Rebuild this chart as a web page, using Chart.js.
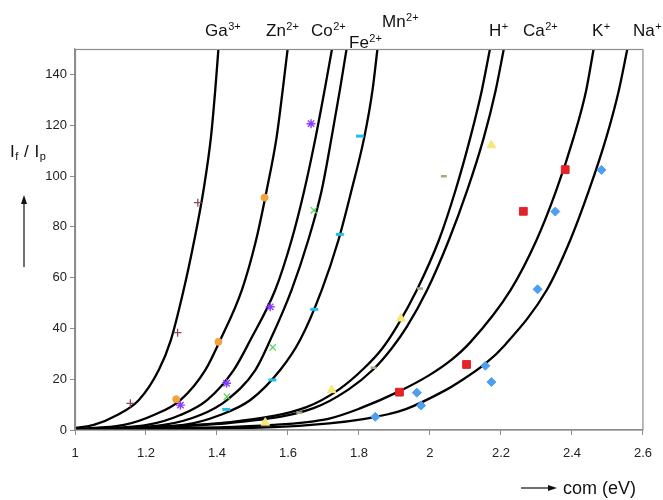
<!DOCTYPE html>
<html>
<head>
<meta charset="utf-8">
<script src="https://cdn.jsdelivr.net/npm/chart.js@4"></script>
<style>
  html, body { margin: 0; padding: 0; background: #ffffff; }
  #wrap { width: 663px; height: 500px; }
</style>
</head>
<body>
<div id="wrap"><canvas id="c" width="663" height="500"></canvas></div>
<script>
// ---------- data ----------
const xTickValues = [1, 1.2, 1.4, 1.6, 1.8, 2, 2.2, 2.4, 2.6];
const xTickLabels = ['1', '1.2', '1.4', '1.6', '1.8', '2', '2.2', '2.4', '2.6'];
const yTickValues = [0, 20, 40, 60, 80, 100, 120, 140];
const yTickLabels = ['0', '20', '40', '60', '80', '100', '120', '140'];

// fitted curves
const gaCurveX = [1.00, 1.053, 1.119, 1.180, 1.236, 1.270, 1.306, 1.336, 1.362, 1.383, 1.395, 1.404];
const gaCurveY = [0.8, 2.0, 5.9, 11.8, 23.6, 35.4, 55.1, 74.7, 94.4, 115.3, 133.7, 150];
const znCurveX = [1.00, 1.138, 1.222, 1.297, 1.367, 1.409, 1.470, 1.510, 1.540, 1.568, 1.585, 1.599];
const znCurveY = [0.4, 2.0, 5.9, 11.8, 23.6, 35.4, 55.1, 74.7, 94.4, 115.3, 133.7, 150];
const coCurveX = [1.00, 1.203, 1.297, 1.372, 1.447, 1.494, 1.564, 1.610, 1.646, 1.678, 1.703, 1.724];
const coCurveY = [0.3, 2.0, 5.9, 11.8, 23.6, 35.4, 55.1, 74.7, 94.4, 115.3, 133.7, 150];
const feCurveX = [1.00, 1.250, 1.353, 1.428, 1.508, 1.550, 1.610, 1.657, 1.695, 1.723, 1.746, 1.765];
const feCurveY = [0.2, 2.0, 5.9, 11.8, 23.6, 35.4, 55.1, 74.7, 94.4, 115.3, 133.7, 150];
const mnCurveX = [1.00, 1.306, 1.409, 1.494, 1.578, 1.634, 1.695, 1.742, 1.779, 1.815, 1.838, 1.852];
const mnCurveY = [0.1, 2.0, 5.9, 11.8, 23.6, 35.4, 55.1, 74.7, 94.4, 115.3, 133.7, 150];
const hCurveX  = [1.00, 1.465, 1.652, 1.744, 1.812, 1.865, 1.907, 1.963, 2.025, 2.072, 2.114, 2.146, 2.169];
const hCurveY  = [0.2, 3.6, 9.0, 16.0, 24.0, 32.0, 40.8, 55.1, 74.7, 94.4, 115.3, 133.7, 150];
const caCurveX = [1.00, 1.480, 1.672, 1.770, 1.840, 1.893, 1.935, 1.992, 2.053, 2.105, 2.152, 2.185, 2.208];
const caCurveY = [0.1, 3.4, 8.6, 15.9, 23.8, 32.3, 40.7, 55.1, 74.7, 94.4, 115.3, 133.7, 150];
const kCurveX  = [1.00, 1.559, 1.716, 1.801, 1.913, 1.997, 2.062, 2.114, 2.227, 2.300, 2.356, 2.405, 2.440, 2.461];
const kCurveY  = [0.2, 2.0, 4.5, 8.4, 15.2, 21.5, 27.8, 34.6, 55.1, 74.7, 94.4, 115.3, 133.7, 150];
const naCurveX = [1.00, 1.559, 1.716, 1.812, 1.885, 1.932, 2.044, 2.081, 2.155, 2.212, 2.329, 2.395, 2.448, 2.497, 2.532, 2.556];
const naCurveY = [0.0, 1.1, 2.6, 4.3, 6.3, 8.2, 15.7, 18.8, 26.0, 33.6, 55.1, 74.7, 94.4, 115.3, 133.7, 150];

// measured points
const gaPtsX = [1.156, 1.289, 1.346];
const gaPtsY = [10.5, 38.3, 89.5];
const znPtsX = [1.285, 1.404, 1.534];
const znPtsY = [12.1, 34.7, 91.5];
const coPtsX = [1.297, 1.427, 1.550, 1.665];
const coPtsY = [9.8, 18.4, 48.5, 120.6];
const fePtsX = [1.428, 1.557, 1.673];
const fePtsY = [13.1, 32.5, 86.5];
const mnPtsX = [1.426, 1.556, 1.674, 1.746, 1.803];
const mnPtsY = [8.1, 19.7, 47.5, 77.0, 115.7];
const hPtsX  = [1.632, 1.841, 1.972, 2.039];
const hPtsY  = [6.8, 24.5, 55.7, 99.9];
const caPtsX = [1.536, 1.723, 1.918, 2.173];
const caPtsY = [2.9, 15.7, 43.9, 112.1];
const kPtsX  = [1.914, 2.103, 2.263, 2.381];
const kPtsY  = [14.9, 25.8, 86.1, 102.5];
const naPtsX = [1.846, 1.963, 1.975, 2.156, 2.173, 2.303, 2.353, 2.483];
const naPtsY = [5.2, 14.7, 9.6, 25.3, 18.9, 55.4, 86.0, 102.4];

const ionBase = ['Ga', 'Zn', 'Co', 'Fe', 'Mn', 'H', 'Ca', 'K', 'Na'];
const ionSup  = ['3+', '2+', '2+', '2+', '2+', '+', '2+', '+', '+'];

// ---------- building ----------
const zip = (xs, ys) => xs.map((x, i) => ({ x: x, y: ys[i] }));

const curveSets = [
  [gaCurveX, gaCurveY], [znCurveX, znCurveY], [coCurveX, coCurveY],
  [feCurveX, feCurveY], [mnCurveX, mnCurveY], [hCurveX, hCurveY],
  [caCurveX, caCurveY], [kCurveX, kCurveY], [naCurveX, naCurveY]
];

const curveDatasets = curveSets.map((c, i) => ({
  label: ionBase[i] + ' fit',
  data: zip(c[0], c[1]),
  showLine: true,
  borderColor: '#000000',
  borderWidth: 2.3,
  pointRadius: 0,
  cubicInterpolationMode: 'monotone',
  fill: false,
  order: 2
}));

const markerStyles = [
  { pointStyle: 'cross',    pointRadius: 4,   borderColor: '#8e4a5c', backgroundColor: '#8e4a5c', borderWidth: 1.3 },
  { pointStyle: 'circle',   pointRadius: 3.5, borderColor: '#f2a23e', backgroundColor: '#f2a23e', borderWidth: 1 },
  { pointStyle: 'star',     pointRadius: 4.5, borderColor: '#8a3cff', backgroundColor: '#8a3cff', borderWidth: 1.4 },
  { pointStyle: 'crossRot', pointRadius: 4.5, borderColor: '#55d455', backgroundColor: '#55d455', borderWidth: 1.2 },
  { pointStyle: 'line',     pointRadius: 4,   borderColor: '#1cc0ea', backgroundColor: '#1cc0ea', borderWidth: 3 },
  { pointStyle: 'line',     pointRadius: 3,   borderColor: '#9ab27e', backgroundColor: '#9ab27e', borderWidth: 2.5 },
  { pointStyle: 'triangle', pointRadius: 5,   borderColor: '#f6e876', backgroundColor: '#f6e876', borderWidth: 1 },
  { pointStyle: 'rect',     pointRadius: 5.5, borderColor: '#e3222a', backgroundColor: '#e3222a', borderWidth: 1 },
  { pointStyle: 'rectRot',  pointRadius: 4.5, borderColor: '#4d9ff2', backgroundColor: '#4d9ff2', borderWidth: 1 }
];

const pointSets = [
  [gaPtsX, gaPtsY], [znPtsX, znPtsY], [coPtsX, coPtsY], [fePtsX, fePtsY],
  [mnPtsX, mnPtsY], [hPtsX, hPtsY], [caPtsX, caPtsY], [kPtsX, kPtsY], [naPtsX, naPtsY]
];

const pointDatasets = pointSets.map((p, i) => Object.assign({
  label: ionBase[i] + ionSup[i],
  data: zip(p[0], p[1]),
  showLine: false,
  order: 1
}, markerStyles[i]));

const FONT = "'Liberation Sans', Arial, Helvetica, sans-serif";

function drawIon(ctx, base, sup, x, y, size) {
  ctx.font = size + 'px ' + FONT;
  ctx.fillText(base, x, y);
  const w = ctx.measureText(base).width;
  ctx.font = Math.round(size * 0.65) + 'px ' + FONT;
  ctx.fillText(sup, x + w + 0.5, y - size * 0.38);
}

const ionLabelPos = [
  [205, 36], [266, 36], [311, 36], [349, 48], [382, 27],
  [489, 36], [523, 36], [592, 36], [633, 36]
];

const decor = {
  id: 'decor',
  afterDraw(chart) {
    const ctx = chart.ctx;
    const a = chart.chartArea;
    ctx.save();
    // frame
    ctx.strokeStyle = '#8c8c8c';
    ctx.lineWidth = 1.2;
    ctx.strokeRect(a.left + 0.5, a.top + 0.5, a.right - a.left - 0.5, a.bottom - a.top - 0.5);

    // ion labels
    ctx.fillStyle = '#111111';
    ctx.textBaseline = 'alphabetic';
    ctx.textAlign = 'left';
    ionBase.forEach((b, i) => {
      drawIon(ctx, b, ionSup[i], ionLabelPos[i][0], ionLabelPos[i][1], 17);
    });

    // y title: I_f / I_p
    let x = 10, y = 157;
    ctx.font = '17px ' + FONT;
    ctx.fillText('I', x, y); x += ctx.measureText('I').width + 0.5;
    ctx.font = '11px ' + FONT;
    ctx.fillText('f', x, y + 3); x += ctx.measureText('f').width + 1;
    ctx.font = '17px ' + FONT;
    ctx.fillText(' / ', x, y); x += ctx.measureText(' / ').width + 1;
    ctx.fillText('I', x, y); x += ctx.measureText('I').width + 0.5;
    ctx.font = '11px ' + FONT;
    ctx.fillText('p', x, y + 3);

    // up arrow
    ctx.strokeStyle = '#111111';
    ctx.lineWidth = 1.2;
    ctx.beginPath();
    ctx.moveTo(24, 267); ctx.lineTo(24, 201);
    ctx.stroke();
    ctx.beginPath();
    ctx.moveTo(24, 195); ctx.lineTo(21, 204); ctx.lineTo(27, 204); ctx.closePath();
    ctx.fill();

    // right arrow + x title
    ctx.beginPath();
    ctx.moveTo(521, 488); ctx.lineTo(551, 488);
    ctx.stroke();
    ctx.beginPath();
    ctx.moveTo(557, 488); ctx.lineTo(548, 485); ctx.lineTo(548, 491); ctx.closePath();
    ctx.fill();
    ctx.font = '18px ' + FONT;
    ctx.fillText('com (eV)', 563, 494);
    ctx.restore();
  }
};

new Chart(document.getElementById('c'), {
  type: 'scatter',
  data: { datasets: pointDatasets.concat(curveDatasets) },
  options: {
    responsive: false,
    animation: false,
    events: [],
    layout: { padding: { top: 49, right: 19, left: 0, bottom: 0 } },
    plugins: { legend: { display: false }, tooltip: { enabled: false } },
    scales: {
      x: {
        type: 'linear',
        min: 1, max: 2.6,
        afterBuildTicks: s => { s.ticks = xTickValues.map(v => ({ value: v })); },
        afterFit: s => { s.height = 70; },
        ticks: {
          color: '#222222',
          font: { family: FONT, size: 13 },
          padding: 11,
          maxRotation: 0,
          autoSkip: false,
          callback: (v, i) => xTickLabels[i]
        },
        grid: { drawOnChartArea: false, drawTicks: true, tickLength: 5, color: '#8c8c8c', lineWidth: 1 },
        border: { display: true, color: '#8c8c8c', width: 1.2 }
      },
      y: {
        type: 'linear',
        min: 0, max: 150,
        afterBuildTicks: s => { s.ticks = yTickValues.map(v => ({ value: v })); },
        afterFit: s => { s.width = 75; },
        ticks: {
          color: '#222222',
          font: { family: FONT, size: 13 },
          padding: 3,
          autoSkip: false,
          callback: (v, i) => yTickLabels[i]
        },
        grid: { drawOnChartArea: false, drawTicks: true, tickLength: 5, color: '#8c8c8c', lineWidth: 1 },
        border: { display: true, color: '#8c8c8c', width: 1.2 }
      }
    }
  },
  plugins: [decor]
});
</script>
</body>
</html>
